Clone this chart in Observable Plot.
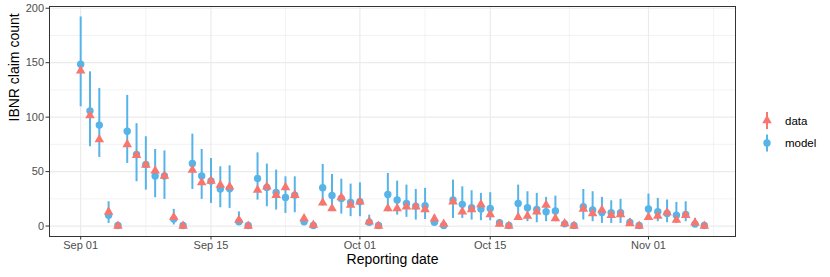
<!DOCTYPE html>
<html><head><meta charset="utf-8">
<script src="https://cdn.jsdelivr.net/npm/d3@7"></script>
<script src="https://cdn.jsdelivr.net/npm/@observablehq/plot@0.6"></script>
<style>
body{margin:0;background:#fff;font-family:"Liberation Sans",Arial,sans-serif;}
#wrap{position:relative;width:830px;height:277px;}
#wrap svg text{font-family:"Liberation Sans",Arial,sans-serif;}
g[aria-label="x-axis tick label"] text, g[aria-label="y-axis tick label"] text{fill:#4D4D4D;}
#legend{position:absolute;left:755px;top:108px;}
</style></head><body><div id="wrap"></div>
<script>
const reportDates = [
"2018-09-01","2018-09-02","2018-09-03","2018-09-04","2018-09-05","2018-09-06","2018-09-07","2018-09-08","2018-09-09","2018-09-10",
"2018-09-11","2018-09-12","2018-09-13","2018-09-14","2018-09-15","2018-09-16","2018-09-17","2018-09-18","2018-09-19","2018-09-20",
"2018-09-21","2018-09-22","2018-09-23","2018-09-24","2018-09-25","2018-09-26","2018-09-27","2018-09-28","2018-09-29","2018-09-30",
"2018-10-01","2018-10-02","2018-10-03","2018-10-04","2018-10-05","2018-10-06","2018-10-07","2018-10-08","2018-10-09","2018-10-10",
"2018-10-11","2018-10-12","2018-10-13","2018-10-14","2018-10-15","2018-10-16","2018-10-17","2018-10-18","2018-10-19","2018-10-20",
"2018-10-21","2018-10-22","2018-10-23","2018-10-24","2018-10-25","2018-10-26","2018-10-27","2018-10-28","2018-10-29","2018-10-30",
"2018-10-31","2018-11-01","2018-11-02","2018-11-03","2018-11-04","2018-11-05","2018-11-06","2018-11-07"];
const dataCounts = [
142.5,101.5,79.5,13,0,75,65,56,50.8,45.9,
8,0,51.4,40,41.3,37.6,36,5.5,0,33,
36,28.4,35.5,28.4,7,1,21.4,16.2,26.3,19.3,
22.3,4,0,16.2,16.2,17.7,17.7,15.3,6.7,1.8,
22.3,13.1,15.3,19.9,10.7,1.8,0,8,9.2,13.1,
19.3,7,2.4,0,15.6,11.6,14.7,10,10.7,2.4,
0,8,9.2,12.5,5.5,10,3,0];
const modelCounts = [
148.6,105.8,92.7,10,0.5,87,65.7,56.6,46,45.9,
6.4,0.5,57.5,45.9,41.3,34,34.2,4,0.5,43.7,
35.5,30.9,26.3,28.4,4,0.5,35.2,28.1,25.4,21.7,
22.3,3.5,0.5,29,23.9,20.8,18.3,18.6,3.4,0.5,
23.9,19.9,16.8,15.6,16.2,3,0.5,20.8,16.8,15.3,
13.1,13.8,2,0.5,17.7,14.7,12.5,12.2,12.2,3.4,
0.5,15.6,13.1,11.6,10,10.7,1.8,0.5];
const modelLower = [
109.5,72.8,63,2.4,0,57.5,40.7,33,26,24.5,
1,0,33.6,24.5,20.8,16.8,16.2,1,0,23.8,
17.7,14.7,11.6,12.2,1,0,18.3,14.7,11,8.6,
8.6,1,0,13,10,8,5.5,6,1,0,
7,7,5.5,4.9,4.9,0,0,5.5,4,3,
4,4,0,0,5.5,4,2.4,2.4,2.4,0,
0,5.5,4,3,2.4,4,0,0];
const modelUpper = [
192,141.6,126.3,22.3,1.5,120,94,82,70.3,69,
15.3,1.5,84.4,70.3,62,54.4,55.3,13,1.5,67.2,
56.9,51.4,45.2,45.2,10,1.5,56.6,47.4,43,38.5,
39.7,10,1.5,48.3,41.3,37.6,33.6,34.6,10,2,
42.2,36,32.4,30,30.6,5.5,1.5,37.6,31.5,30,
26.3,27.5,5,1.5,33.6,31.5,26.3,23.2,24.5,7,
1.5,29.4,25.4,23.9,21.7,22.3,7,1.5];
const xTicks = ["2018-09-01","2018-09-15","2018-10-01","2018-10-15","2018-11-01"];
const xMinorTicks = ["2018-09-08","2018-09-23","2018-10-08","2018-10-23T12:00Z","2018-11-08"];
const yTicks = [0,50,100,150,200];
const yMinorTicks = [25,75,125,175];
const seriesNames = ["data","model"];
const seriesColors = ["#F8766D","#56B4E9"];
const xTitle = "Reporting date";
const yTitle = "IBNR claim count";

const rows = reportDates.map((d,i)=>({date:new Date(d), data:dataCounts[i], model:modelCounts[i], lo:modelLower[i], hi:modelUpper[i]}));
const xt = xTicks.map(d=>new Date(d)), xm = xMinorTicks.map(d=>new Date(d));
const ext = d3.extent(rows, r=>r.date), span = ext[1]-ext[0];
const xDomain = [new Date(+ext[0]-0.05*span), new Date(+ext[1]+0.05*span)];
const yMin = Math.min(0, d3.min(modelLower), d3.min(dataCounts)), yMax = Math.max(d3.max(modelUpper), d3.max(dataCounts));
const ySpan = yMax - yMin;
const yDomain = [yMin-0.05*ySpan, yMax+0.05*ySpan];
const grid = "#EBEBEB";

const chart = Plot.plot({
  width:830, height:277, marginLeft:49, marginRight:95, marginTop:6, marginBottom:41,
  x:{type:"utc", domain:xDomain},
  y:{domain:yDomain},
  marks:[
    Plot.gridY({ticks:yMinorTicks, stroke:grid, strokeOpacity:1, strokeWidth:0.6}),
    Plot.gridX({ticks:xm, stroke:grid, strokeOpacity:1, strokeWidth:0.6}),
    Plot.gridY({ticks:yTicks, stroke:grid, strokeOpacity:1, strokeWidth:1.2}),
    Plot.gridX({ticks:xt, stroke:grid, strokeOpacity:1, strokeWidth:1.2}),
    Plot.ruleX(rows,{x:"date", y1:"lo", y2:"hi", stroke:seriesColors[1], strokeWidth:2}),
    Plot.dot(rows,{x:"date", y:"model", symbol:"circle", r:3.7, fill:seriesColors[1]}),
    Plot.dot(rows,{x:"date", y:"data", symbol:"triangle", r:3.55, fill:seriesColors[0]}),
    Plot.frame({stroke:"#333333", strokeWidth:1}),
    Plot.axisX({ticks:xt, tickFormat:d3.utcFormat("%b %d"), tickSize:3.5, tickPadding:1.5, fontSize:11, label:null, color:"#333333"}),
    Plot.axisY({ticks:yTicks, tickSize:3.5, tickPadding:2, fontSize:11, label:null, color:"#333333"}),
    Plot.text([xTitle],{frameAnchor:"bottom", dy:27, text:d=>d, fontSize:14, fill:"#000"}),
    Plot.text([yTitle],{frameAnchor:"left", dx:-35, rotate:-90, text:d=>d, fontSize:14, fill:"#000"})
  ]
});
const wrap = document.getElementById("wrap");
wrap.appendChild(chart);

// legend
const lg = d3.select(wrap).append("div").attr("id","legend")
  .append("svg").attr("width",70).attr("height",50);
seriesNames.forEach((name,i)=>{
  const g = lg.append("g").attr("transform",`translate(12,${12.5+i*22.5})`);
  g.append("line").attr("y1",-8.5).attr("y2",8.5).attr("stroke",seriesColors[i]).attr("stroke-width",2);
  if(i===0) g.append("path").attr("d",d3.symbol(d3.symbolTriangle, Math.PI*3.55*3.55)()).attr("fill",seriesColors[i]);
  else g.append("circle").attr("r",3.7).attr("fill",seriesColors[i]);
  g.append("text").attr("x",18).attr("y",0).attr("dy","0.35em").attr("font-size",11.5)
   .attr("font-family","Liberation Sans, Arial, sans-serif").attr("fill","#000").text(name);
});
</script>
</body></html>
